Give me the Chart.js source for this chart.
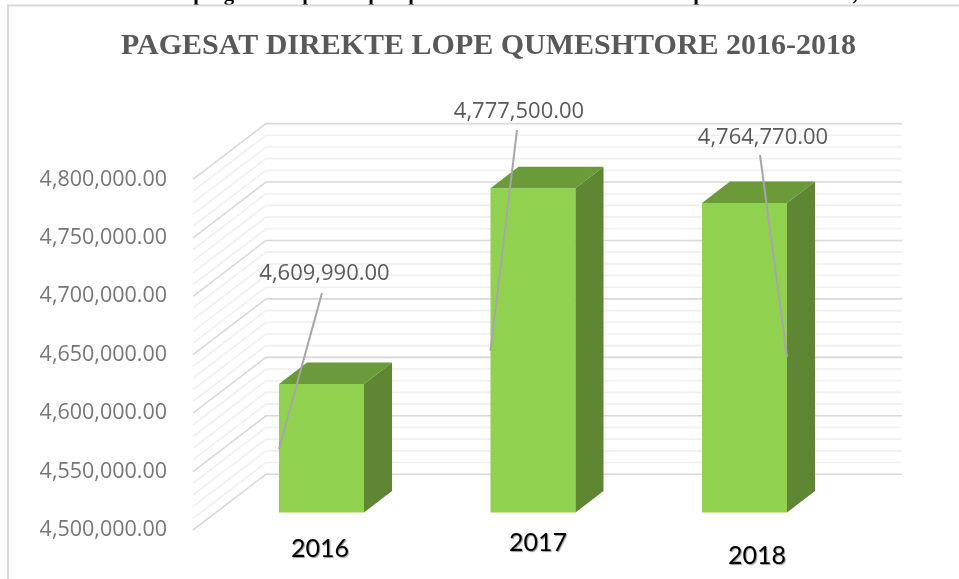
<!DOCTYPE html>
<html><head><meta charset="utf-8">
<style>html,body{margin:0;padding:0;background:#fff}#w{position:absolute;left:0;top:0;width:959px;height:579px}</style>
<script src="https://cdn.jsdelivr.net/npm/chart.js@4/dist/chart.umd.min.js"></script>
</head><body><div id="w"><canvas id="c" width="959" height="579"></canvas></div>
<script>
const titleText = 'PAGESAT DIREKTE LOPE QUMESHTORE 2016-2018';
const categories = ['2016', '2017', '2018'];
const payments = [4609990, 4777500, 4764770];
const dataLabels = ['4,609,990.00', '4,777,500.00', '4,764,770.00'];
const tickValues = [4500000, 4550000, 4600000, 4650000, 4700000, 4750000, 4800000];
const axisMin = 4500000, axisTop = 4800000, majorStep = 50000, minorStep = 10000;

// geometry of the pseudo-3D drawing
const area = {left: 215.75, right: 850.25, top: 123.6, bottom: 530};
const pxPerUnit = 350.6 / 300000;
const wallLeft = 193, wallBackX = 266, wallRight = 902, wallDepthY = 55.8;
const barDepthX = 28, barDepthY = 21.5, barLift = 17.5;
const labelPos = [[324.5, 274], [519, 112], [763, 138]];
const leaders = [[[322, 293], [279, 449]], [[517, 130], [490.5, 351]], [[760, 155], [787, 357]]];
const xLabelPos = [[320, 549], [538, 543], [757, 556]];
// descenders of the cropped line of text above the chart frame
const croppedGlyphs = [['p', 199], ['g', 229], ['p', 308], ['p', 374], ['p', 414], ['p', 699], [',', 855]];

const rangeUnits = (area.bottom - area.top) / pxPerUnit;
const liftUnits = barLift / pxPerUnit;

const threeD = {
  id: 'threeD',
  beforeDatasetsDraw(chart) {
    const c = chart.ctx, yL = chart.scales.yL;
    c.save();
    for (let v = axisMin; v <= axisTop; v += minorStep) {
      const y = yL.getPixelForValue(v), major = (v - axisMin) % majorStep === 0;
      c.strokeStyle = major ? '#d9d9d9' : '#f0f0f0';
      c.lineWidth = 1.6;
      c.beginPath();
      c.moveTo(wallLeft, y);
      c.lineTo(wallBackX, y - wallDepthY);
      c.lineTo(wallRight, y - wallDepthY);
      c.stroke();
    }
    c.restore();
  },
  afterDatasetsDraw(chart) {
    const c = chart.ctx, meta = chart.getDatasetMeta(0);
    c.save();
    meta.data.forEach(b => {
      const l = b.x - b.width / 2, r = b.x + b.width / 2, t = b.y, bt = b.base;
      c.fillStyle = '#6b9a39';
      c.beginPath(); c.moveTo(l, t); c.lineTo(l + barDepthX, t - barDepthY); c.lineTo(r + barDepthX, t - barDepthY); c.lineTo(r, t); c.closePath(); c.fill();
      c.fillStyle = '#5f8632';
      c.beginPath(); c.moveTo(r, t); c.lineTo(r + barDepthX, t - barDepthY); c.lineTo(r + barDepthX, bt - barDepthY); c.lineTo(r, bt); c.closePath(); c.fill();
    });
    c.strokeStyle = '#a6a6a6'; c.lineWidth = 2;
    leaders.forEach(p => { c.beginPath(); c.moveTo(p[0][0], p[0][1]); c.lineTo(p[1][0], p[1][1]); c.stroke(); });
    c.fillStyle = '#595959'; c.font = '22px "Open Sans"'; c.textAlign = 'center'; c.textBaseline = 'middle';
    dataLabels.forEach((s, i) => c.fillText(s, labelPos[i][0], labelPos[i][1]));
    c.save();
    c.shadowColor = 'rgba(0,0,0,0.4)'; c.shadowOffsetX = 1; c.shadowOffsetY = 1; c.shadowBlur = 1;
    c.fillStyle = '#000'; c.font = '25px Lato';
    categories.forEach((s, i) => c.fillText(s, xLabelPos[i][0], xLabelPos[i][1]));
    c.restore();
    // cropped caption line and chart frame
    c.fillStyle = '#000'; c.font = 'bold 21px "Liberation Serif"'; c.textBaseline = 'alphabetic';
    croppedGlyphs.forEach(g => c.fillText(g[0], g[1], 0));
    c.strokeStyle = '#d9d9d9'; c.lineWidth = 2;
    c.beginPath(); c.moveTo(8, 579); c.lineTo(8, 5.5); c.lineTo(959, 5.5); c.stroke();
    c.fillStyle = '#595959'; c.font = 'bold 30px "Liberation Serif"';
    c.fillText(titleText, 488.5, 53.5);
    c.restore();
  }
};

new Chart(document.getElementById('c'), {
  type: 'bar',
  data: {labels: categories, datasets: [{
    data: payments, base: axisMin, backgroundColor: '#90d250', borderWidth: 0,
    barPercentage: 0.402, categoryPercentage: 1
  }]},
  options: {
    responsive: false, animation: false,
    layout: {padding: {left: 0, right: 959 - area.right, top: area.top, bottom: 579 - area.bottom}},
    plugins: {legend: {display: false}, title: {display: false}, tooltip: {enabled: false}},
    scales: {
      x: {display: false, offset: true},
      y: {display: false, min: axisMin - liftUnits, max: axisMin - liftUnits + rangeUnits},
      yL: {
        position: 'left', min: axisMin, max: axisMin + rangeUnits,
        border: {display: false}, grid: {display: false, drawTicks: false},
        afterBuildTicks(s) { s.ticks = tickValues.map(value => ({value})); },
        afterFit(s) { s.width = area.left; s.paddingTop = 0; s.paddingBottom = 0; },
        ticks: {
          color: '#767676', padding: 48.75, autoSkip: false,
          font: {family: '"Open Sans"', size: 21.5},
          callback: v => Number(v).toLocaleString('en-US', {minimumFractionDigits: 2, maximumFractionDigits: 2})
        }
      }
    }
  },
  plugins: [threeD]
});
</script></body></html>
